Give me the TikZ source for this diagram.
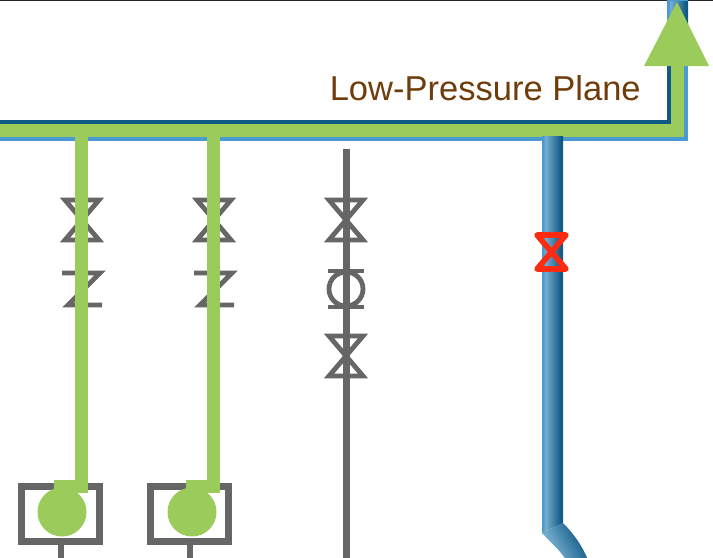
\documentclass[tikz,border=0pt]{standalone}
\usepackage{fontspec}
\setmainfont{Liberation Sans}
\definecolor{pipegreen}{HTML}{9BCB5B}
\definecolor{pipegray}{HTML}{666666}
\definecolor{pipeblue}{HTML}{4A9AD4}
\definecolor{pipelight}{HTML}{78AECF}
\definecolor{pipedark}{HTML}{0F5A85}
\definecolor{planebrown}{HTML}{6F3D0C}
\definecolor{valvered}{HTML}{FF2A12}
\pgfdeclarehorizontalshading{pipeshade}{100bp}{
  color(0bp)=(pipeblue); color(25bp)=(pipeblue); color(28bp)=(pipeblue);
  color(33bp)=(pipelight); color(70bp)=(pipedark); color(75bp)=(pipedark); color(100bp)=(pipedark)}
\begin{document}
\begin{tikzpicture}[x=0.75pt,y=-0.75pt,
  line/.style={draw=pipegray,line width=5.25pt},
  thin line/.style={draw=pipegray,line width=3.6pt,line join=miter},
  green line/.style={draw=pipegreen,line width=9.75pt},
  bowtie/.pic={\draw[thin line] (-17,-20)--(17,-20)--(-17,20)--(17,20)--cycle;}]
\useasboundingbox (0,0) rectangle (713,557);
\clip (0,0) rectangle (713,557);
\fill[black!85] (0,0) rectangle (713,1);
% low-pressure plane
\fill[pipeblue] (-5,120) -- (688,120) -- (688,141) -- (-5,141) -- cycle;
\fill[pipeblue] (667,0) rectangle (688,141);
\shade[shading=pipeshade] (667,1) rectangle (688,30);
\draw[pipedark,line width=3pt] (-5,121.5) -- (668.5,121.5) -- (668.5,40);
\coordinate (head) at (677.5,66);
\draw[green line,line cap=butt] (-5,130) -- (677.5,130) -- (head);
\fill[pipegreen] (644,66) -- (677,2) -- (709,66) -- cycle;
\node[anchor=base east,inner sep=0pt,text=planebrown,font=\fontsize{25.9}{30}\selectfont] (plane) at (641,100.5) {Low-Pressure Plane};
% first two legs
\foreach \px/\cx/\bx in {82/62/18,214/192/147}{
  \path (\px,220) pic {bowtie};
  \draw[thin line] (\px-20,273) -- (\px+18,273) -- (\px-14,305) -- (\px+20,305);
  \draw[line width=5.25pt,draw=pipegray] (\bx+3.5,486.5) rectangle (\bx+81.5,541.5);
  \draw[draw=pipegray,line width=4.5pt] (\bx+43,545) -- (\bx+43,560);
  \fill[pipegreen] (\cx,512) circle (24.5);
  \fill[pipegreen] (\px-28,480) rectangle (\px+6,493);
  \draw[green line] (\px-0.5,130) -- (\px-0.5,493);
}
% third leg
\draw[line] (346,149) -- (346,560);
\path (346,220) pic {bowtie};
\draw[thin line] (328,271) -- (364,271);
\draw[thin line] (328,307) -- (364,307);
\draw[thin line] (346,289) circle (17);
\path (346,356) pic {bowtie};
% blue leg
\shade[shading=pipeshade] (542,136) -- (563,136) -- (563,523) -- (542,533) -- cycle;
\shade[shading=pipeshade,shading angle=28] (542,533) .. controls (553,545) and (560,550) .. (566,560) -- (588,560) .. controls (582,545) and (573,533) .. (563,523) -- cycle;
\draw[valvered,line width=4.2pt,line join=round] (537,235) -- (566,235) -- (537,269) -- (566,269) -- cycle;
\end{tikzpicture}
\end{document}
